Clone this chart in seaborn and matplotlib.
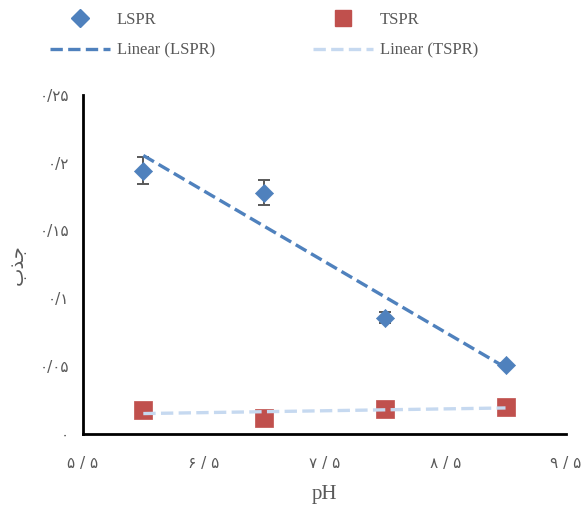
import matplotlib
matplotlib.use('Agg')

import matplotlib.pyplot as plt
import seaborn as sns
from matplotlib.lines import Line2D

# values
ph = [6, 7, 8, 9]
lspr = [0.194, 0.178, 0.0855, 0.051]
lspr_err = [0.010, 0.009, 0.004, 0.001]
tspr = [0.0177, 0.0118, 0.0184, 0.0201]

x_ticks = [5.5, 6.5, 7.5, 8.5, 9.5]
x_labels = ['۵ / ۵', '۶ / ۵', '۷ / ۵', '۸ / ۵', '۹ / ۵']
y_ticks = [0, 0.05, 0.1, 0.15, 0.2, 0.25]
y_labels = ['۰', '۰/۰۵', '۰/۱', '۰/۱۵', '۰/۲', '۰/۲۵']

# "جذب" written with Arabic presentation forms in visual order,
# because matplotlib does no Arabic shaping / bidi
y_title = '\uFE8F\uFEAC\uFE9F'

blue = '#4F81BD'
red = '#C0504D'
light = '#C6D9F0'
grey = '#595959'
serif = 'Liberation Serif'

sns.set_style('white')
fig, ax = plt.subplots(figsize=(5.84, 5.05), dpi=100)
fig.subplots_adjust(left=0.142, right=0.969, bottom=0.141, top=0.812)

# error bars under the LSPR markers
ax.errorbar(ph, lspr, yerr=lspr_err, fmt='none', ecolor=grey,
            elinewidth=1.4, capsize=4.5, capthick=1.4, zorder=2)

sns.scatterplot(x=ph, y=lspr, marker='D', s=85, color=blue,
                edgecolor=blue, linewidth=0.5, zorder=3, ax=ax)
sns.scatterplot(x=ph, y=tspr, marker='s', s=150, color=red,
                edgecolor=red, linewidth=0.5, zorder=3, ax=ax)

# linear trend lines
sns.regplot(x=ph, y=lspr, scatter=False, ci=None, color=blue, ax=ax,
            line_kws=dict(ls='--', lw=2.4, zorder=4))
sns.regplot(x=ph, y=tspr, scatter=False, ci=None, color=light, ax=ax,
            line_kws=dict(ls='--', lw=2.4, zorder=4))

ax.set_xlim(5.5, 9.5)
ax.set_ylim(0, 0.25)
ax.set_xticks(x_ticks)
ax.set_xticklabels(x_labels, family='DejaVu Sans', fontsize=11)
ax.set_yticks(y_ticks)
ax.set_yticklabels(y_labels, family='DejaVu Sans', fontsize=11)
ax.tick_params(length=0, labelcolor=grey)
ax.tick_params(axis='x', pad=16)
ax.tick_params(axis='y', pad=10)

for side in ['top', 'right']:
    ax.spines[side].set_visible(False)
for side in ['left', 'bottom']:
    ax.spines[side].set_color('black')
    ax.spines[side].set_linewidth(2)

ax.set_xlabel('pH', family=serif, fontsize=15, color=grey, labelpad=10)
ax.set_ylabel(y_title, family='DejaVu Sans', fontsize=14, color=grey, labelpad=9)

handles = [
    Line2D([], [], marker='D', ls='none', color=blue, markersize=9),
    Line2D([], [], ls='--', lw=2.4, color=blue),
    Line2D([], [], marker='s', ls='none', color=red, markersize=12),
    Line2D([], [], ls='--', lw=2.4, color=light),
]
labels = ['LSPR', 'Linear (LSPR)', 'TSPR', 'Linear (TSPR)']
fig.legend(handles, labels, ncol=2, loc='center', bbox_to_anchor=(0.452, 0.930),
           frameon=False, prop=dict(family=serif, size=12), labelcolor=grey,
           handlelength=3.6, handletextpad=0.4, columnspacing=5.9, labelspacing=0.85)

plt.savefig('out.png', dpi=100)
plt.close()
